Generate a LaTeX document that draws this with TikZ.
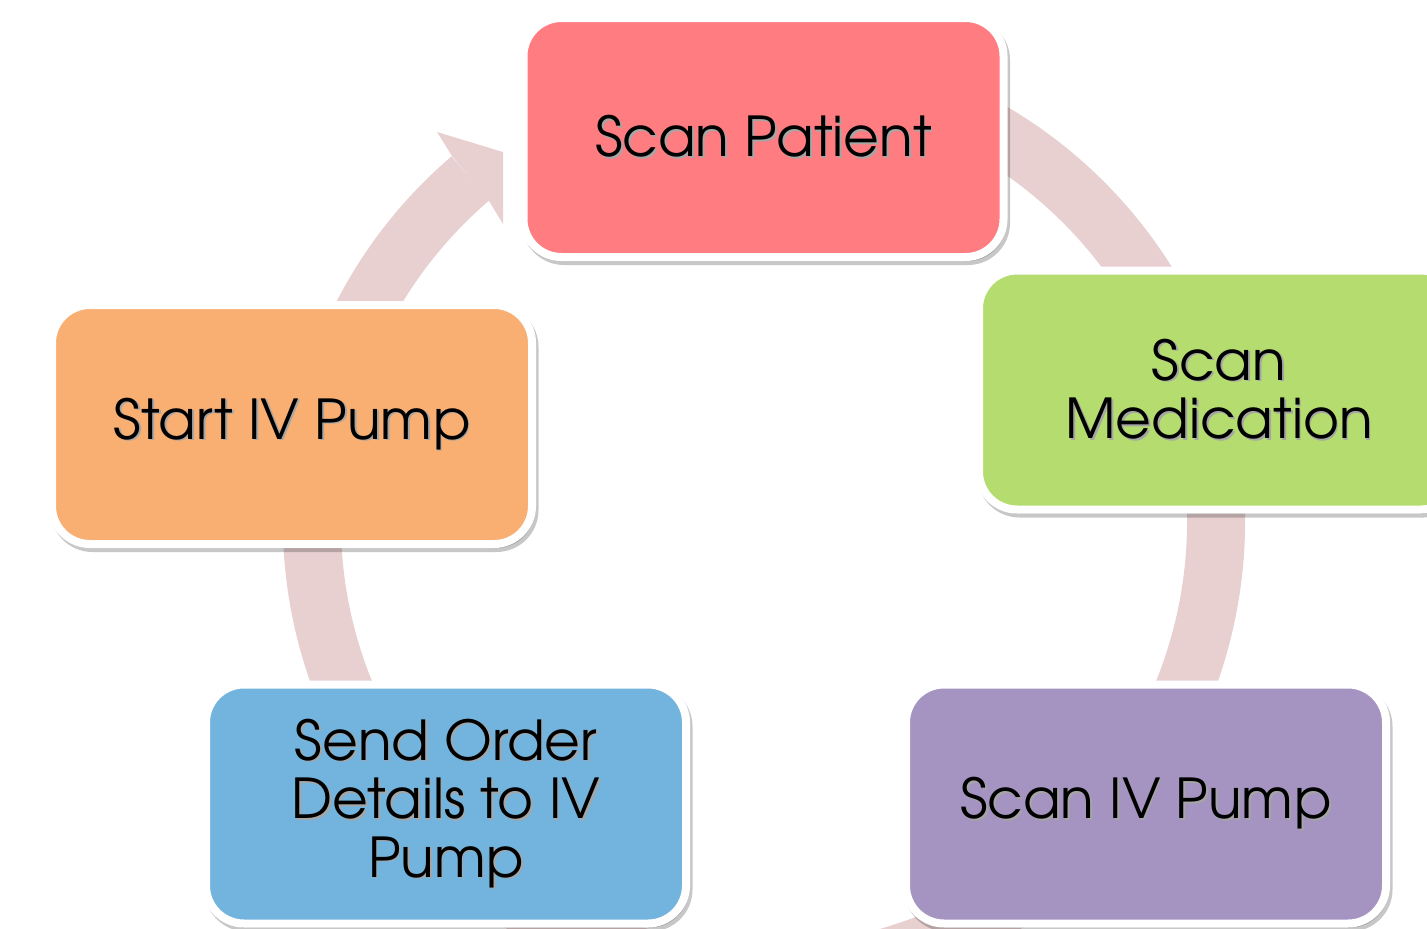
\documentclass[tikz,border=0pt]{standalone}
\usepackage{fontspec}
\setmainfont{TeX Gyre Adventor}
\usetikzlibrary{shadows}

\definecolor{patientred}{RGB}{255,124,128}
\definecolor{medgreen}{RGB}{181,220,110}
\definecolor{pumppurple}{RGB}{165,147,193}
\definecolor{orderblue}{RGB}{114,180,221}
\definecolor{startorange}{RGB}{249,174,114}
\definecolor{ringpink}{RGB}{232,208,209}

% text with a soft shadow
\newcommand{\shadowed}[1]{\leavevmode\rlap{\kern1.8pt\raisebox{-1.8pt}{\textcolor{black!35}{#1}}}#1}

\begin{document}
\begin{tikzpicture}[x=1pt,y=-1pt,
    cyclebox/.style={draw=white, line width=8pt, rounded corners=38pt,
      minimum width=480pt, minimum height=239pt, inner sep=0pt,
      align=center, font=\fontsize{55}{58.5}\selectfont,
      drop shadow={shadow xshift=2.5pt, shadow yshift=-4pt, opacity=0.22,
        fill=black, draw=black, line width=8pt}},
    ring/.style={draw=ringpink, line width=58pt}]
    \useasboundingbox (0,0) rectangle (1427,929);
    \clip (0,0) rectangle (1427,929);

    % Draw ring behind the boxes
    \coordinate (ctr) at (764,522);
    \draw[ring] (ctr) ++(-80:452) arc[start angle=-80, end angle=229.5, radius=452];
    \fill[ringpink] (452,156) -- (437,132) -- (503,152) -- (503,224) -- (489,201) -- cycle;

    % Draw the steps
    \node[cyclebox, fill=patientred] (patient) at (763.5,137.5) {\shadowed{Scan Patient}};
    \node[cyclebox, fill=medgreen] (medication) at (1219,390) {\shadowed{Scan}\\\shadowed{Medication}};
    \node[cyclebox, fill=pumppurple] (scanpump) at (1146,804) {\shadowed{Scan IV Pump}};
    \node[cyclebox, fill=orderblue] (order) at (446,804)
      {\shadowed{Send Order}\\\shadowed{Details to IV}\\\shadowed{Pump}};
    \node[cyclebox, fill=startorange] (start) at (292,424.5) {\shadowed{Start IV Pump}};
\end{tikzpicture}
\end{document}
